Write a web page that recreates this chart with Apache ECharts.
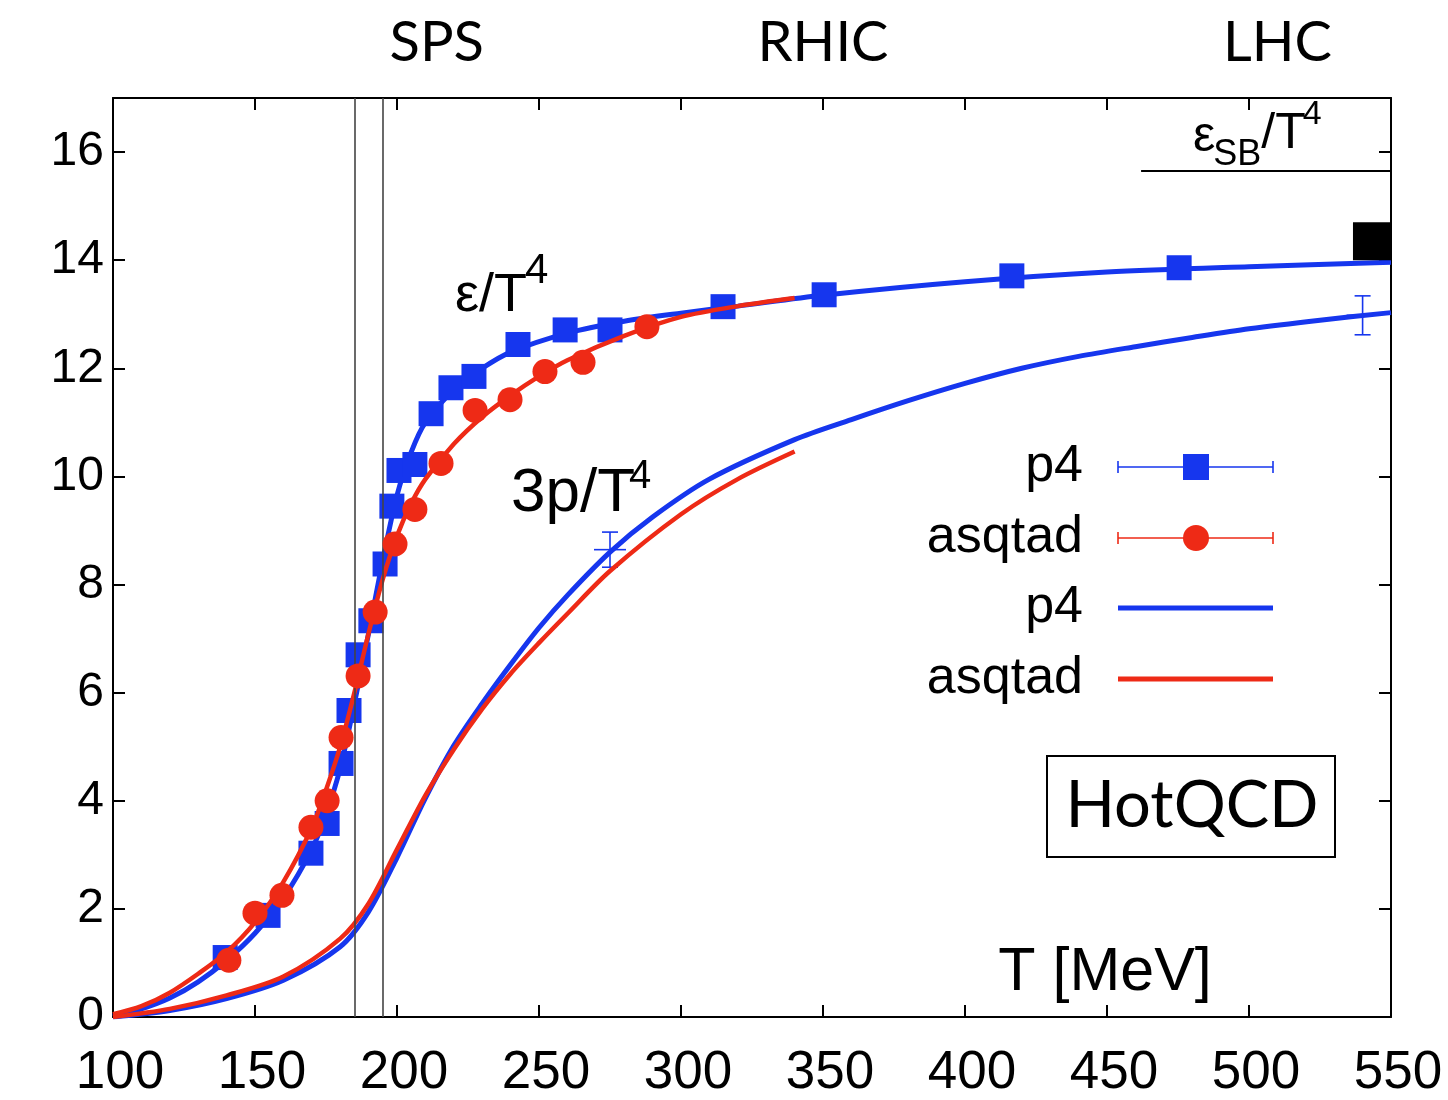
<!DOCTYPE html>
<html>
<head>
<meta charset="utf-8">
<script src="https://cdn.jsdelivr.net/npm/echarts@6/dist/echarts.min.js"></script>
<style>
html,body{margin:0;padding:0;background:#fff;}
#chart{width:1448px;height:1100px;}
</style>
</head>
<body>
<div id="chart"></div>
<script>
// ---- Data (T in MeV) ----
// p4 energy density data points (blue squares)
const p4EpsT = [139.5, 154.6, 169.7, 175.4, 180.3, 183.1, 186.3, 190.8, 195.8, 198.2, 200.7, 206.3, 212.0, 219.0, 227.1, 242.6, 259.2, 275.0, 314.8, 350.4, 416.5, 475.4];
const p4EpsV = [1.10, 1.88, 3.03, 3.58, 4.69, 5.67, 6.70, 7.33, 8.38, 9.45, 10.11, 10.22, 11.16, 11.64, 11.85, 12.44, 12.71, 12.71, 13.14, 13.36, 13.71, 13.86];
// asqtad energy density data points (red circles)
const asqEpsT = [140.8, 150.0, 159.5, 169.7, 175.4, 180.3, 186.3, 192.3, 199.3, 206.3, 215.5, 227.5, 239.8, 252.1, 265.5, 288.0];
const asqEpsV = [1.05, 1.92, 2.25, 3.51, 4.00, 5.17, 6.31, 7.49, 8.75, 9.39, 10.24, 11.22, 11.42, 11.94, 12.11, 12.77];
// black square (high-T point)
const blackT = [543.3];
const blackV = [14.35];

// p4 energy density curve
const p4EpsCurveT = [100, 110, 120, 130, 140, 150, 160, 170, 175, 180, 185, 190, 195, 200, 205, 210, 220, 230, 240, 260, 280, 300, 320, 350, 400, 450, 500, 550];
const p4EpsCurveV = [0.02, 0.15, 0.35, 0.65, 1.05, 1.55, 2.2, 3.1, 3.75, 4.6, 5.8, 7.1, 8.45, 9.65, 10.45, 11.0, 11.6, 12.0, 12.3, 12.65, 12.87, 13.02, 13.15, 13.35, 13.6, 13.78, 13.88, 13.96];
// asqtad energy density curve
const asqEpsCurveT = [100, 110, 120, 130, 140, 150, 160, 170, 175, 180, 185, 190, 195, 200, 205, 210, 220, 230, 240, 250, 260, 280, 300, 320, 340];
const asqEpsCurveV = [0.05, 0.2, 0.45, 0.8, 1.2, 1.75, 2.5, 3.5, 4.2, 5.0, 6.0, 7.1, 8.1, 8.9, 9.5, 9.95, 10.6, 11.1, 11.5, 11.85, 12.15, 12.6, 12.95, 13.15, 13.3];
// p4 pressure curve (3p/T^4)
const p4PCurveT = [100, 120, 140, 160, 180, 190, 200, 210, 220, 230, 240, 250, 260, 275, 290, 310, 340, 360, 380, 400, 420, 440, 460, 480, 500, 525, 550];
const p4PCurveV = [0.0, 0.12, 0.34, 0.68, 1.3, 1.95, 2.95, 4.05, 5.02, 5.8, 6.52, 7.2, 7.8, 8.6, 9.25, 9.95, 10.68, 11.05, 11.4, 11.72, 12.0, 12.22, 12.4, 12.57, 12.73, 12.89, 13.03];
// asqtad pressure curve (3p/T^4)
const asqPCurveT = [100, 120, 140, 160, 180, 190, 200, 210, 220, 230, 240, 250, 260, 275, 300, 320, 340];
const asqPCurveV = [0.0, 0.15, 0.4, 0.75, 1.45, 2.1, 3.1, 4.1, 4.95, 5.7, 6.35, 6.92, 7.46, 8.25, 9.3, 9.95, 10.46];
// error bars on p4 pressure
const errT = [275, 540];
const errLow = [8.32, 12.62];
const errHigh = [8.97, 13.34];

// reference lines
const critT = [185, 195];
const sbValue = 15.65;
const sbRange = [462, 550];

// axis ticks
const xTicks = {min: 100, max: 550, step: 50};
const yTicks = {min: 0, max: 17, step: 2};

// legend labels / annotations
const legendLabels = ['p4', 'asqtad', 'p4', 'asqtad'];
const topLabels = [{text: 'SPS', T: 214}, {text: 'RHIC', T: 350}, {text: 'LHC', T: 510}];

const zip = (a, b) => a.map((x, i) => [x, b[i]]);

const BLUE = '#1636ee';
const RED = '#ee2a16';

const chart = echarts.init(document.getElementById('chart'), null, {renderer: 'canvas'});

const G = {left: 113, right: 57, top: 98, bottom: 81};
const axisLineStyle = {color: '#000', width: 2};

const option = {
  animation: false,
  backgroundColor: '#fff',
  grid: G,
  xAxis: [
    {type: 'value', min: xTicks.min, max: xTicks.max, interval: xTicks.step, position: 'bottom',
     axisLine: {show: true, lineStyle: axisLineStyle, onZero: false},
     axisTick: {show: true, inside: true, length: 12, lineStyle: {color: '#000', width: 2}},
     axisLabel: {margin: 30, padding: [0, 0, 0, 14], fontFamily: 'Liberation Sans', fontSize: 53, color: '#000'},
     splitLine: {show: false}},
    {type: 'value', min: xTicks.min, max: xTicks.max, interval: xTicks.step, position: 'top',
     axisLine: {show: true, lineStyle: axisLineStyle, onZero: false},
     axisTick: {show: true, inside: true, length: 12, lineStyle: {color: '#000', width: 2}},
     axisLabel: {show: false}, splitLine: {show: false}}
  ],
  yAxis: [
    {type: 'value', min: yTicks.min, max: yTicks.max, interval: yTicks.step, position: 'left',
     axisLine: {show: true, lineStyle: axisLineStyle, onZero: false},
     axisTick: {show: true, inside: true, length: 12, lineStyle: {color: '#000', width: 2}},
     axisLabel: {margin: 9, showMaxLabel: false, fontFamily: 'Liberation Sans', fontSize: 48, color: '#000'},
     splitLine: {show: false}},
    {type: 'value', min: yTicks.min, max: yTicks.max, interval: yTicks.step, position: 'right',
     axisLine: {show: true, lineStyle: axisLineStyle, onZero: false},
     axisTick: {show: true, inside: true, length: 12, lineStyle: {color: '#000', width: 2}},
     axisLabel: {show: false}, splitLine: {show: false}}
  ],
  series: [
    {name: 'refs', type: 'line', data: [], silent: true,
     markLine: {silent: true, symbol: 'none', animation: false, label: {show: false},
       lineStyle: {color: '#444', width: 1.6, type: 'solid'},
       data: critT.map(t => ({xAxis: t})).concat([[
         {coord: [sbRange[0], sbValue]}, {coord: [sbRange[1], sbValue], lineStyle: {color: '#000', width: 2}}
       ]])}},
    {name: 'p4 eps curve', type: 'line', data: zip(p4EpsCurveT, p4EpsCurveV), smooth: 0.3,
     showSymbol: false, lineStyle: {color: BLUE, width: 5}, z: 2},
    {name: 'p4 p curve', type: 'line', data: zip(p4PCurveT, p4PCurveV), smooth: 0.3,
     showSymbol: false, lineStyle: {color: BLUE, width: 5}, z: 2},
    {name: 'p4 err', type: 'custom', z: 3, data: errT.map((t, i) => [t, errLow[i], errHigh[i]]),
     renderItem: function (params, api) {
       const x = api.value(0);
       const lo = api.coord([x, api.value(1)]);
       const hi = api.coord([x, api.value(2)]);
       const mid = api.coord([x, (api.value(1) + api.value(2)) / 2]);
       const w = 8;
       const st = {stroke: BLUE, lineWidth: 1.6, fill: null};
       return {type: 'group', children: [
         {type: 'line', shape: {x1: lo[0], y1: lo[1], x2: hi[0], y2: hi[1]}, style: st},
         {type: 'line', shape: {x1: lo[0] - w, y1: lo[1], x2: lo[0] + w, y2: lo[1]}, style: st},
         {type: 'line', shape: {x1: hi[0] - w, y1: hi[1], x2: hi[0] + w, y2: hi[1]}, style: st},
         {type: 'line', shape: {x1: mid[0] - 2 * w, y1: mid[1], x2: mid[0] + 2 * w, y2: mid[1]}, style: st}
       ]};
     }},
    {name: 'p4 squares', type: 'scatter', data: zip(p4EpsT, p4EpsV), symbol: 'rect', symbolSize: 25,
     itemStyle: {color: BLUE, opacity: 1}, z: 3},
    {name: 'asqtad eps curve', type: 'line', data: zip(asqEpsCurveT, asqEpsCurveV), smooth: 0.3,
     showSymbol: false, lineStyle: {color: RED, width: 4.5}, z: 4},
    {name: 'asqtad p curve', type: 'line', data: zip(asqPCurveT, asqPCurveV), smooth: 0.3,
     showSymbol: false, lineStyle: {color: RED, width: 4.5}, z: 4},
    {name: 'asqtad circles', type: 'scatter', data: zip(asqEpsT, asqEpsV), symbol: 'circle', symbolSize: 25,
     itemStyle: {color: RED, opacity: 1}, z: 5},
    {name: 'black', type: 'scatter', data: zip(blackT, blackV), symbol: 'rect', symbolSize: 38,
     itemStyle: {color: '#000', opacity: 1}, z: 5}
  ],
  graphic: []
};

chart.setOption(option);

// ---- annotations (text, legend, box) ----
const mctx = document.createElement('canvas').getContext('2d');
const measure = (text, size, fam) => { mctx.font = size + 'px "' + (fam || 'Liberation Sans') + '"'; return mctx.measureText(text).width; };

const gfx = [];
const txt = (text, x, y, size, opts) => ({
  type: 'text', x: x, y: y, z: 50,
  style: Object.assign({text: text, fill: '#000', fontSize: size, fontFamily: 'Liberation Sans', align: 'left', verticalAlign: 'middle'}, opts || {})
});

// Top labels
topLabels.forEach(l => {
  const px = chart.convertToPixel({xAxisIndex: 0}, l.T);
  gfx.push(txt(l.text, px, 43, 56, {fontFamily: 'Lato', align: 'center'}));
});

// epsilon / T^4
gfx.push(txt('ε/T', 455, 296, 54));
gfx.push(txt('4', 455 + measure('ε/T', 54) - 2, 271, 42));
// 3p / T^4
gfx.push(txt('3p/T', 511, 494, 62));
gfx.push(txt('4', 511 + measure('3p/T', 62) - 6, 477, 40));
// eps_SB / T^4
const sbx = 1193;
gfx.push(txt('ε', sbx, 137, 50));
const sbx2 = sbx + measure('ε', 50) - 2;
gfx.push(txt('SB', sbx2, 155, 36));
const sbx3 = sbx2 + measure('SB', 36);
gfx.push(txt('/T', sbx3, 134, 50));
gfx.push(txt('4', sbx3 + measure('/T', 50) - 3, 115, 34));
// x axis title
gfx.push(txt('T [MeV]', 1105, 973, 61, {align: 'center'}));

// Legend
const legY = [467, 538, 608, 679];
const legColors = [BLUE, RED, BLUE, RED];
const lx1 = 1118, lx2 = 1273, lmid = 1196;
legendLabels.forEach((lab, i) => {
  gfx.push(txt(lab, 1083, legY[i], 52, {align: 'right'}));
  const c = legColors[i];
  if (i < 2) {
    gfx.push({type: 'line', z: 50, shape: {x1: lx1, y1: legY[i], x2: lx2, y2: legY[i]}, style: {stroke: c, lineWidth: 1.6}});
    gfx.push({type: 'line', z: 50, shape: {x1: lx1, y1: legY[i] - 6, x2: lx1, y2: legY[i] + 6}, style: {stroke: c, lineWidth: 1.6}});
    gfx.push({type: 'line', z: 50, shape: {x1: lx2, y1: legY[i] - 6, x2: lx2, y2: legY[i] + 6}, style: {stroke: c, lineWidth: 1.6}});
    if (i === 0) gfx.push({type: 'rect', z: 51, shape: {x: lmid - 13, y: legY[i] - 13, width: 26, height: 26}, style: {fill: c}});
    else gfx.push({type: 'circle', z: 51, shape: {cx: lmid, cy: legY[i], r: 13}, style: {fill: c}});
  } else {
    gfx.push({type: 'line', z: 50, shape: {x1: lx1, y1: legY[i], x2: lx2, y2: legY[i]}, style: {stroke: c, lineWidth: 5}});
  }
});

// HotQCD box
gfx.push({type: 'rect', z: 50, shape: {x: 1047, y: 756, width: 288, height: 101}, style: {fill: '#fff', stroke: '#000', lineWidth: 2}});
gfx.push(txt('HotQCD', 1192, 806, 65, {fontFamily: 'Lato', align: 'center'}));

chart.setOption({graphic: gfx});
</script>
</body>
</html>
